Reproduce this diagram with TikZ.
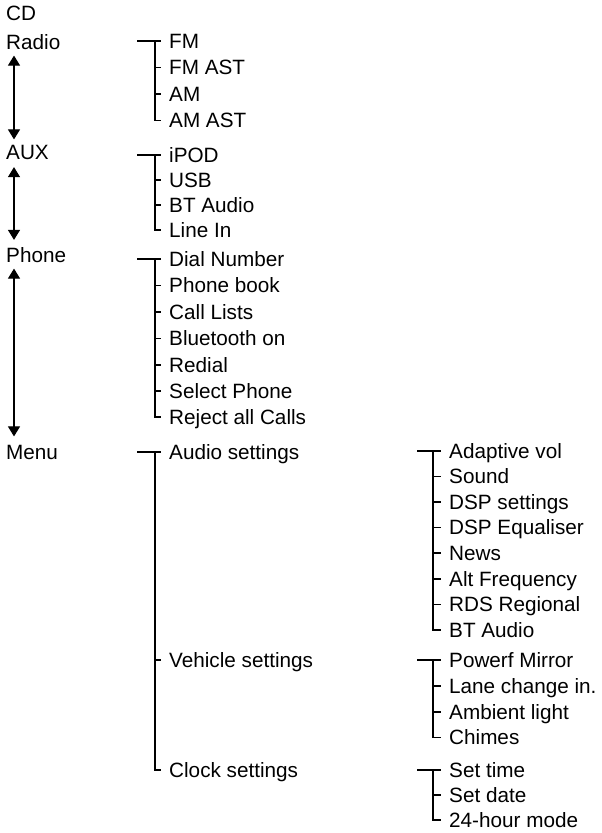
\documentclass[tikz,border=0pt]{standalone}
\usepackage{fontspec}
\setmainfont{Liberation Sans}
\usetikzlibrary{arrows.meta}
\tikzset{
  item/.style={anchor=west, inner sep=0pt, text height=14.8pt, text depth=0pt, font=\fontsize{20.7}{24}\selectfont},
  conn/.style={line width=1.1pt, black},
  updown/.style={line width=1.1pt, {Triangle[width=12pt,length=10pt]}-{Triangle[width=12pt,length=10pt]}}
}
\newcommand{\mytree}[4]{% first, middles, last, vertical offset
  \draw[conn] ([xshift=-32pt]#1.west) -- ([xshift=-8pt]#1.west);
  \draw[conn] ([xshift=-#4pt]#1.west) |- ([xshift=-8pt]#3.west);
  \foreach \m in {#2} {\draw[conn] ([xshift=-#4pt]\m.west) -- ([xshift=-8pt]\m.west);}
}
\begin{document}
\begin{tikzpicture}[x=1pt,y=-1pt]
\useasboundingbox (0,0) rectangle (602,833);
% main column
\node[item] (cd) at (6,13) {CD};
\node[item] (radio) at (6,42) {Radio};
\node[item] (aux) at (6,152) {AUX};
\node[item] (phone) at (6,255) {Phone};
\node[item] (menu) at (6,452) {Menu};
\draw[updown] ([xshift=8pt,yshift=-6pt]radio.south west) -- ([xshift=8pt,yshift=5pt]aux.north west);
\draw[updown] ([xshift=8pt,yshift=-7.5pt]aux.south west) -- ([xshift=8pt,yshift=7.5pt]phone.north west);
\draw[updown] ([xshift=8pt,yshift=-6pt]phone.south west) -- ([xshift=8pt,yshift=8pt]menu.north west);
% radio
\node[item] (fm) at (169,41) {FM};
\node[item] (fmast) at (169,67.5) {FM AST};
\node[item] (am) at (169,94) {AM};
\node[item] (amast) at (169,120.5) {AM AST};
\mytree{fm}{fmast,am}{amast}{14}
% aux
\node[item] (ipod) at (169,155) {iPOD};
\node[item] (usb) at (169,180) {USB};
\node[item] (btaudio) at (169,205) {BT Audio};
\node[item] (linein) at (169,230) {Line In};
\mytree{ipod}{usb,btaudio}{linein}{14}
% phone
\node[item] (dial) at (169,259) {Dial Number};
\node[item] (pbook) at (169,285.5) {Phone book};
\node[item] (calls) at (169,312) {Call Lists};
\node[item] (bton) at (169,338.5) {Bluetooth on};
\node[item] (redial) at (169,365) {Redial};
\node[item] (selph) at (169,391) {Select Phone};
\node[item] (reject) at (169,417) {Reject all Calls};
\mytree{dial}{pbook,calls,bton,redial,selph}{reject}{14}
% menu
\node[item] (audio) at (169,452) {Audio settings};
\node[item] (vehicle) at (169,660) {Vehicle settings};
\node[item] (clock) at (169,770) {Clock settings};
\mytree{audio}{vehicle}{clock}{14}
% audio settings
\node[item] (adapt) at (449,451) {Adaptive vol};
\node[item] (sound) at (449,476.5) {Sound};
\node[item] (dsps) at (449,502) {DSP settings};
\node[item] (dspe) at (449,527.5) {DSP Equaliser};
\node[item] (news) at (449,553) {News};
\node[item] (altf) at (449,579) {Alt Frequency};
\node[item] (rds) at (449,604.5) {RDS Regional};
\node[item] (btaud2) at (449,630) {BT Audio};
\mytree{adapt}{sound,dsps,dspe,news,altf,rds}{btaud2}{16}
% vehicle settings
\node[item] (mirror) at (449,660) {Powerf Mirror};
\node[item] (lane) at (449,686) {Lane change in.};
\node[item] (ambient) at (449,712) {Ambient light};
\node[item] (chimes) at (449,737.5) {Chimes};
\mytree{mirror}{lane,ambient}{chimes}{16}
% clock settings
\node[item] (settime) at (449,770) {Set time};
\node[item] (setdate) at (449,795) {Set date};
\node[item] (mode24) at (449,820) {24-hour mode};
\mytree{settime}{setdate}{mode24}{16}
\end{tikzpicture}
\end{document}
